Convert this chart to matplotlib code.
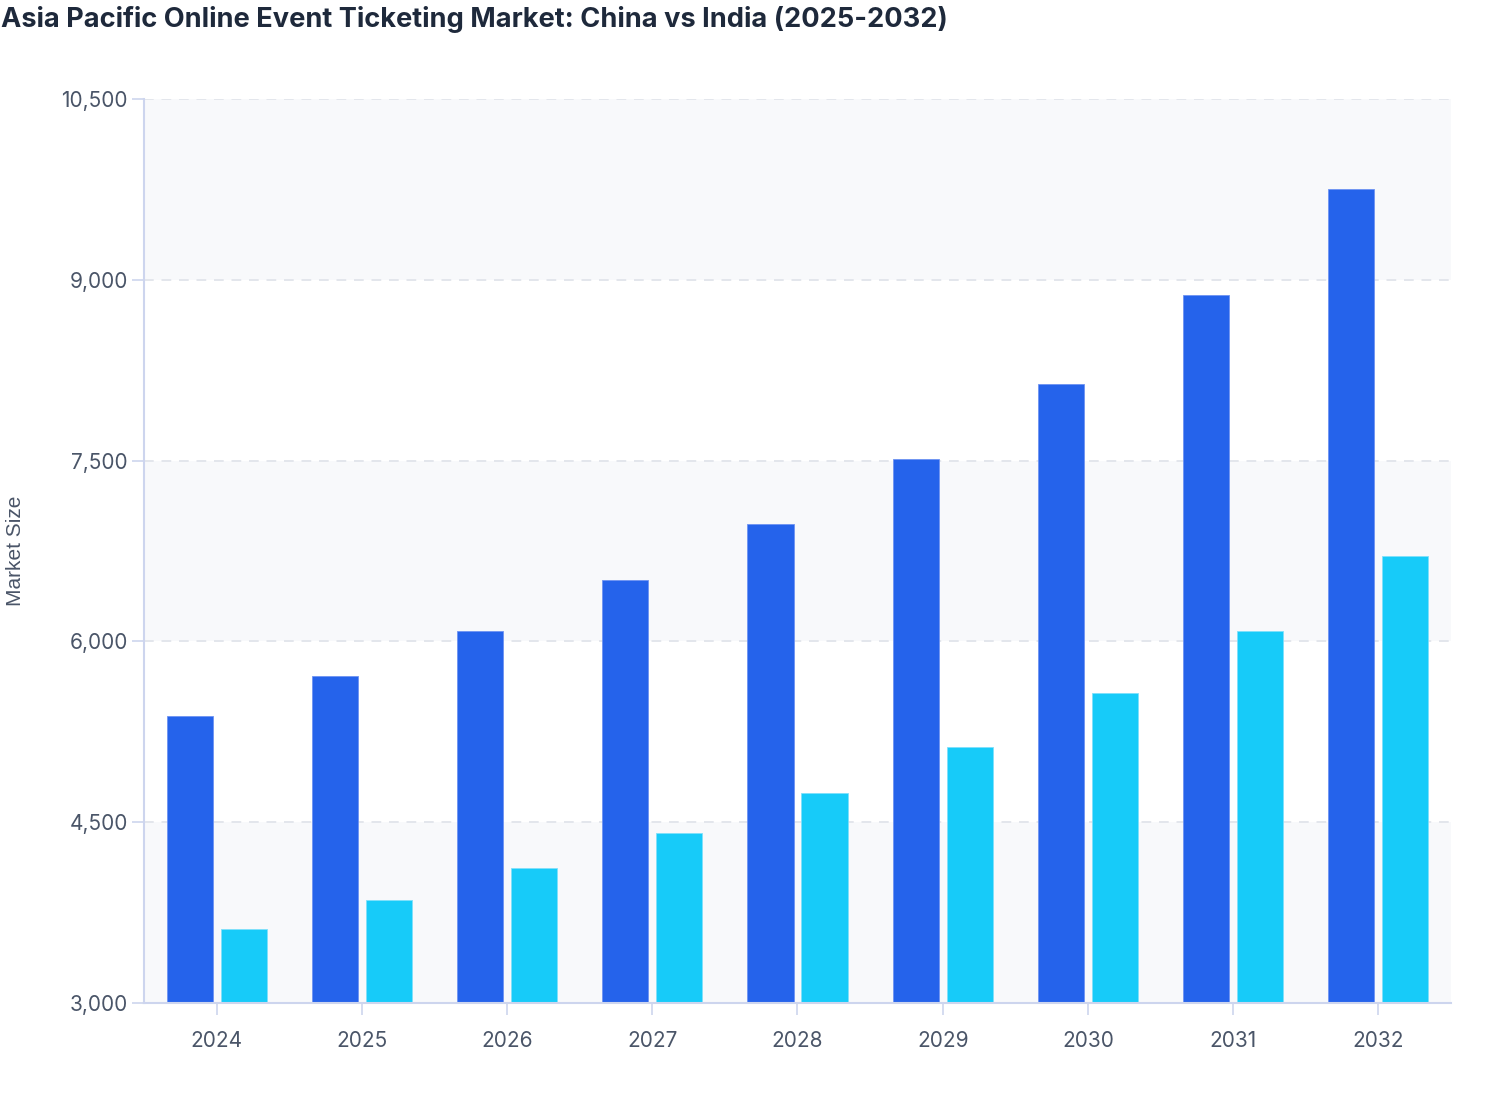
import matplotlib
matplotlib.use("Agg")
import matplotlib.pyplot as plt
import numpy as np

years = ["2024", "2025", "2026", "2027", "2028", "2029", "2030", "2031", "2032"]
china = [5380, 5715, 6090, 6510, 6975, 7515, 8135, 8875, 9755]
india = [3615, 3855, 4120, 4410, 4745, 5125, 5570, 6090, 6710]
y_ticks = [3000, 4500, 6000, 7500, 9000, 10500]
title = "Asia Pacific Online Event Ticketing Market: China vs India (2025-2032)"
y_label = "Market Size"

fig = plt.figure(figsize=(15.08, 11.2), dpi=100)
ax = fig.add_axes([144/1508, 1-1003/1120, (1451-144)/1508, (1003-99)/1120])

x = np.arange(len(years))
w = 0.317
off = 0.186
ax.bar(x - off, china, w, color="#2563EB", edgecolor="#6E93F2", linewidth=0.6, zorder=3)
ax.bar(x + off, india, w, color="#17CBF9", edgecolor="#7FE0FB", linewidth=0.6, zorder=3)

ax.set_xlim(-0.5, len(years) - 0.5)
ax.set_ylim(y_ticks[0], y_ticks[-1])

# alternating bands
for i in range(0, len(y_ticks) - 1, 2):
    ax.axhspan(y_ticks[i], y_ticks[i + 1], color="#F8F9FB", zorder=0, linewidth=0)

ax.set_yticks(y_ticks)
ax.set_yticklabels([f"{v:,}" for v in y_ticks])
ax.set_xticks(x)
ax.set_xticklabels(years)

for v in y_ticks[1:]:
    ax.axhline(v, color="#E3E6EC", linewidth=1.4, linestyle=(0, (5, 4)), zorder=1)

for s in ["top", "right"]:
    ax.spines[s].set_visible(False)
for s in ["left", "bottom"]:
    ax.spines[s].set_color("#CDD5EE")
    ax.spines[s].set_linewidth(1.5)
    ax.spines[s].set_zorder(4)

ax.tick_params(axis="both", colors="#CDD5EE", length=8.5, width=1.2, labelsize=15,
               labelcolor="#4A5568")
ax.tick_params(axis="x", pad=11.5)
ax.tick_params(axis="y", pad=3)
for lab in ax.get_xticklabels() + ax.get_yticklabels():
    lab.set_fontfamily(["Inter", "DejaVu Sans"])

fig.text(16/1508, 1-551/1120, y_label, rotation=90, ha="center", va="center",
         fontsize=15, color="#4A5568", family=["Liberation Sans", "DejaVu Sans"])

fig.text(0.0005, 1-27/1120, title, ha="left", va="baseline", fontsize=19.6, fontweight="bold",
         color="#1E293B", family=["Inter", "DejaVu Sans"])

fig.savefig("out.png", dpi=100, facecolor="white")
